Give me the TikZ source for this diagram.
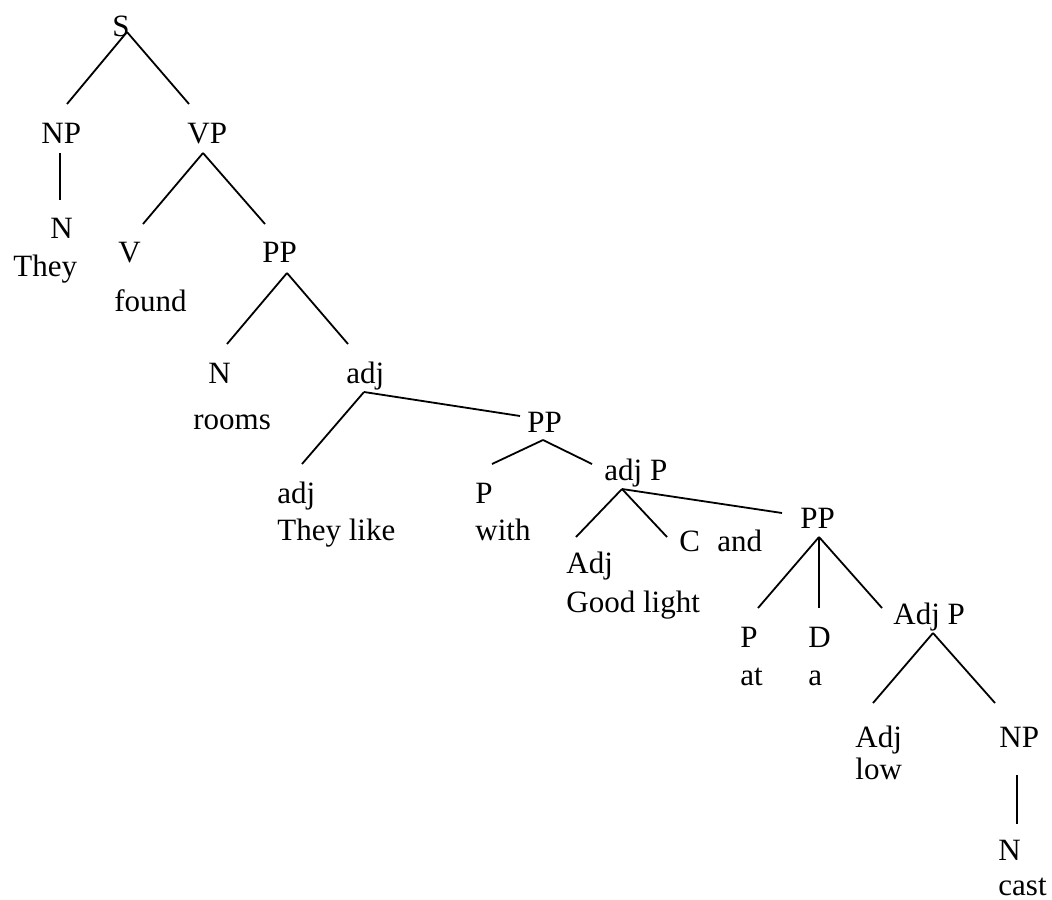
\documentclass[tikz,border=0pt]{standalone}
\usepackage{fontspec}
\setmainfont{Liberation Serif}
\begin{document}
\begin{tikzpicture}[x=0.5pt,y=-0.5pt,
    lbl/.style={anchor=base west,inner sep=0pt,font=\fontsize{15.5}{18}\selectfont},
    edge/.style={line width=0.9pt,black}]
\useasboundingbox (0,0) rectangle (1052,899);
% labels
\node[lbl] (S) at (112,37) {S};
\node[lbl] (NP1) at (41,143) {NP};
\node[lbl] (VP) at (187,143) {VP};
\node[lbl] (N1) at (50,238) {N};
\node[lbl] (They) at (13,276) {They};
\node[lbl] (V) at (118,262) {V};
\node[lbl] (PP1) at (262,262) {PP};
\node[lbl] (found) at (114,311) {found};
\node[lbl] (N2) at (208,383) {N};
\node[lbl] (adj1) at (346,383) {adj};
\node[lbl] (rooms) at (193,429) {rooms};
\node[lbl] (adj2) at (277,503) {adj};
\node[lbl] (theylike) at (277,540) {They like};
\node[lbl] (PP2) at (527,432) {PP};
\node[lbl] (P1) at (475,503) {P};
\node[lbl] (with) at (475,540) {with};
\node[lbl] (adjP) at (604,480) {adj P};
\node[lbl] (Adj1) at (566,573) {Adj};
\node[lbl] (goodlight) at (566,612) {Good light};
\node[lbl] (C) at (679,551) {C};
\node[lbl] (and) at (717,551) {and};
\node[lbl] (PP3) at (800,528) {PP};
\node[lbl] (P2) at (740,647) {P};
\node[lbl] (at) at (740,685) {at};
\node[lbl] (D) at (808,647) {D};
\node[lbl] (a) at (808,685) {a};
\node[lbl] (AdjP) at (893,624) {Adj P};
\node[lbl] (Adj2) at (855,747) {Adj};
\node[lbl] (low) at (855,779) {low};
\node[lbl] (NP2) at (999,747) {NP};
\node[lbl] (N3) at (998,860) {N};
\node[lbl] (cast) at (998,895) {cast};
% branch points
\coordinate (S-b) at (127,32);
\coordinate (NP1-b) at (60,153);
\coordinate (VP-b) at (203,153);
\coordinate (PP1-b) at (287,273);
\coordinate (adj1-b) at (364,392);
\coordinate (PP2-b) at (543,440);
\coordinate (adjP-b) at (622,489);
\coordinate (PP3-b) at (819,537);
\coordinate (AdjP-b) at (933,633);
\coordinate (NP2-b) at (1017,775);
% branch ends
\coordinate (NP1-t) at (67,104);
\coordinate (VP-t) at (189,104);
\coordinate (N1-t) at (60,200);
\coordinate (V-t) at (143,224);
\coordinate (PP1-t) at (265,224);
\coordinate (N2-t) at (227,344);
\coordinate (adj1-t) at (348,344);
\coordinate (adj2-t) at (302,464);
\coordinate (PP2-t) at (520,416);
\coordinate (P1-t) at (492,464);
\coordinate (adjP-t) at (592,464);
\coordinate (Adj1-t) at (576,537);
\coordinate (C-t) at (667,537);
\coordinate (PP3-t) at (782,513);
\coordinate (P2-t) at (758,608);
\coordinate (D-t) at (819,608);
\coordinate (AdjP-t) at (882,608);
\coordinate (Adj2-t) at (873,703);
\coordinate (NP2-t) at (995,703);
\coordinate (N3-t) at (1017,824);
\foreach \a/\b in {S-b/NP1-t,S-b/VP-t,NP1-b/N1-t,VP-b/V-t,VP-b/PP1-t,
    PP1-b/N2-t,PP1-b/adj1-t,adj1-b/adj2-t,adj1-b/PP2-t,PP2-b/P1-t,PP2-b/adjP-t,
    adjP-b/Adj1-t,adjP-b/C-t,adjP-b/PP3-t,PP3-b/P2-t,PP3-b/D-t,PP3-b/AdjP-t,
    AdjP-b/Adj2-t,AdjP-b/NP2-t,NP2-b/N3-t}
    \draw[edge] (\a) -- (\b);
\end{tikzpicture}
\end{document}
